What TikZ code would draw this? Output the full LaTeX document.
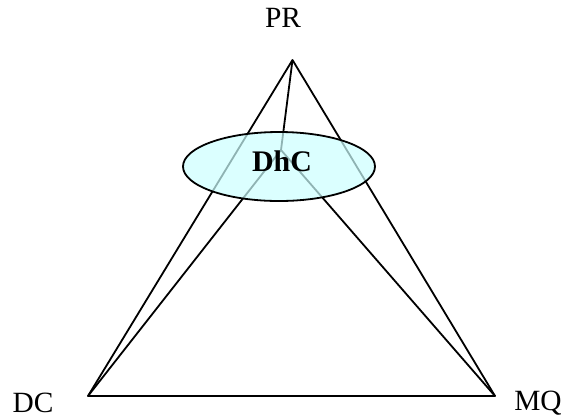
\documentclass[tikz,border=0pt]{standalone}
\usepackage{fontspec}
\setmainfont{Liberation Serif}
\usetikzlibrary{shapes.geometric}
\definecolor{dhcfill}{HTML}{CCFFFF}

\begin{document}
\begin{tikzpicture}[
    x=1bp, y=-1bp,
    corner/.style={font=\fontsize{29.5}{34}\selectfont, inner sep=0pt},
    edge/.style={draw=black, line width=1.8bp, line join=round},
    dhcarea/.style={ellipse, draw=black, line width=1.8bp, fill=dhcfill, fill opacity=0.7,
      text opacity=1, minimum width=192bp, minimum height=69bp, inner sep=0pt}
  ]
    \useasboundingbox (0,0) rectangle (568,419);

    % corners of the triangle
    \coordinate (pr) at (292.5,60);
    \coordinate (dc) at (88,396);
    \coordinate (mq) at (495,396);
    \coordinate (mid) at (281,150);

    \node[corner] (prlabel) at (283,18) {PR};
    \node[corner] (dclabel) at (33,403) {DC};
    \node[corner] (mqlabel) at (538,403) {MQ};

    \draw[edge] (pr) -- (dc) -- (mq) -- cycle;
    \draw[edge] (pr) -- (mid);
    \draw[edge] (mid) -- (dc);
    \draw[edge] (mid) -- (mq);

    \node[dhcarea] (dhc) at (279,166.5) {};
    \node[corner, font=\fontsize{30}{34}\selectfont\bfseries] (dhctext) at (282,161) {DhC};
  \end{tikzpicture}
\end{document}
